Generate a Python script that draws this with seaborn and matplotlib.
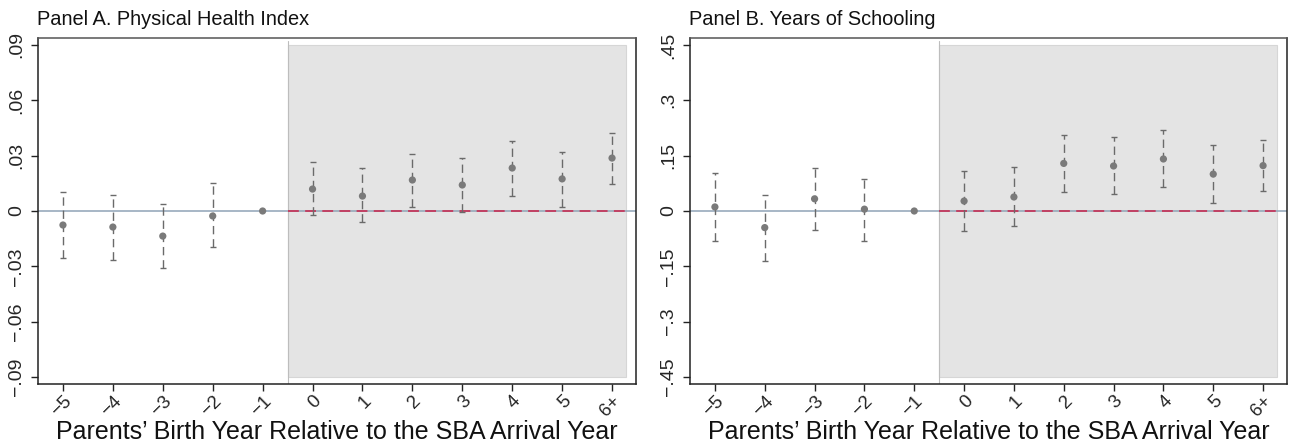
import matplotlib
matplotlib.use("Agg")
import matplotlib.pyplot as plt
from matplotlib.patches import Rectangle
import numpy as np
import pandas as pd
import seaborn as sns

# Event-study estimates relative to the SBA arrival year (reference year: -1)
rel_year = [-5, -4, -3, -2, -1, 0, 1, 2, 3, 4, 5, 6]
tick_labels = ["\u22125", "\u22124", "\u22123", "\u22122", "\u22121",
               "0", "1", "2", "3", "4", "5", "6+"]

health_coef = [-0.0076, -0.0087, -0.0136, -0.0027, 0.0, 0.0119, 0.0081,
               0.0168, 0.0141, 0.0233, 0.0174, 0.0287]
health_lo = [-0.0255, -0.0266, -0.0309, -0.0195, 0.0, -0.0020, -0.0060,
             0.0022, -0.0003, 0.0081, 0.0022, 0.0146]
health_hi = [0.0103, 0.0087, 0.0038, 0.0152, 0.0, 0.0266, 0.0233,
             0.0309, 0.0287, 0.0380, 0.0320, 0.0423]

school_coef = [0.011, -0.045, 0.033, 0.005, 0.0, 0.027, 0.038,
               0.129, 0.122, 0.141, 0.100, 0.123]
school_lo = [-0.082, -0.135, -0.051, -0.080, 0.0, -0.053, -0.041,
             0.051, 0.045, 0.064, 0.021, 0.055]
school_hi = [0.103, 0.044, 0.116, 0.088, 0.0, 0.108, 0.118,
             0.206, 0.200, 0.219, 0.178, 0.193]

health_ticks = [-0.09, -0.06, -0.03, 0.0, 0.03, 0.06, 0.09]
health_tick_labels = ["\u2212.09", "\u2212.06", "\u2212.03", "0", ".03", ".06", ".09"]
school_ticks = [-0.45, -0.30, -0.15, 0.0, 0.15, 0.30, 0.45]
school_tick_labels = ["\u2212.45", "\u2212.3", "\u2212.15", "0", ".15", ".3", ".45"]

panels = [
    dict(title="Panel A. Physical Health Index", coef=health_coef, lo=health_lo,
         hi=health_hi, ticks=health_ticks, labels=health_tick_labels),
    dict(title="Panel B. Years of Schooling", coef=school_coef, lo=school_lo,
         hi=school_hi, ticks=school_ticks, labels=school_tick_labels),
]

sns.set_theme(style="white")
plt.rcParams["font.family"] = ["Liberation Sans", "DejaVu Sans"]

W, H = 1289, 445
fig = plt.figure(figsize=(W / 100, H / 100), dpi=100)

# axes boxes in pixels: left, right, top, bottom
boxes = [(38, 636, 38, 384), (690, 1287, 38, 384)]

POINT = "#7a7a7a"
BAR = "#6a6a6a"
ZERO = "#8fa3b6"
REF = "#c4385c"
SHADE = "#e4e4e4"

for p, (l, r, t, b) in zip(panels, boxes):
    ax = fig.add_axes([l / W, 1 - b / H, (r - l) / W, (b - t) / H])
    df = pd.DataFrame({"year": rel_year, "coef": p["coef"],
                       "lo": p["lo"], "hi": p["hi"]})
    top = p["ticks"][-1]
    lim = top * 1.042

    # post-arrival period shading
    ax.add_patch(Rectangle((-0.5, -top), 6.77, 2 * top, facecolor=SHADE,
                           edgecolor="#d6d6d6", lw=0.8, zorder=0))
    ax.plot([-0.5, -0.5], [-lim, top * 1.025], color="#bdbdbd", lw=0.8, zorder=1)

    ax.axhline(0, color=ZERO, lw=1.1, zorder=1)
    ax.plot([-0.5, 6.27], [0, 0], color=REF, lw=1.3, dashes=(6, 3.5), zorder=2)

    ci = df[df["year"] != -1]
    eb = ax.errorbar(ci["year"], ci["coef"],
                     yerr=[ci["coef"] - ci["lo"], ci["hi"] - ci["coef"]],
                     fmt="none", ecolor=BAR, elinewidth=1.0, capsize=2.1,
                     capthick=1.0, zorder=3)
    for lc in eb[2]:
        lc.set_linestyle((0, (6, 3.5)))

    sns.scatterplot(data=df, x="year", y="coef", ax=ax, color=POINT, s=27,
                    edgecolor="none", zorder=5, legend=False)

    ax.set_xlim(-5.5, 6.48)
    ax.set_ylim(-lim, lim)
    ax.set_yticks(p["ticks"])
    ax.set_yticklabels(p["labels"], rotation=90, va="center", fontsize=14)
    ax.set_xticks(rel_year)
    ax.set_xticklabels(tick_labels, rotation=45, ha="right", va="top",
                       rotation_mode="anchor", fontsize=13.5)
    ax.tick_params(axis="both", direction="out", length=5, width=1.0,
                   color="#222222", left=True, bottom=True)
    ax.tick_params(axis="y", pad=4)
    ax.tick_params(axis="x", pad=1)
    for s in ax.spines.values():
        s.set_visible(True)
        s.set_color("#222222")
        s.set_linewidth(1.1)
    ax.spines["top"].set_color("#555555")

    ax.set_ylabel("")
    ax.set_xlabel("Parents\u2019 Birth Year Relative to the SBA Arrival Year",
                  fontsize=18.0, color="#111111")
    ax.xaxis.set_label_coords(0.5, -0.104)
    fig.text((l - 1) / W, 1 - 25 / H, p["title"], fontsize=14.4,
             ha="left", va="baseline", color="#111111")

fig.savefig("out.png", dpi=100)
